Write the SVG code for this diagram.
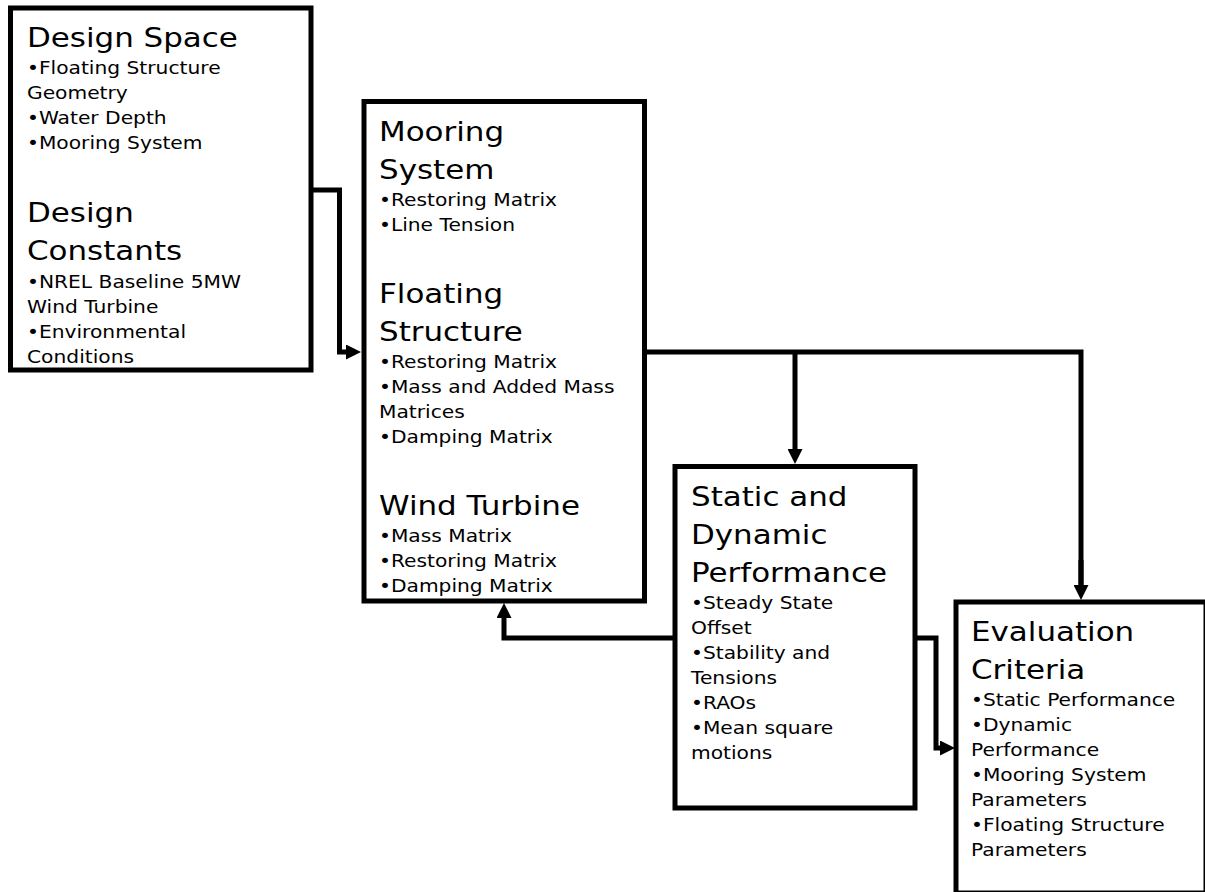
<svg xmlns="http://www.w3.org/2000/svg" width="1205" height="892" viewBox="0 0 1205 892">
<style>
  .box { fill: #ffffff; stroke: #000000; stroke-width: 5; }
  .h { font-family: "DejaVu Sans", Verdana, sans-serif; font-size: 26px; fill: #000000; }
  .b { font-family: "DejaVu Sans", Verdana, sans-serif; font-size: 17px; fill: #000000; }
  .conn { fill: none; stroke: #000000; stroke-width: 5; stroke-linejoin: miter; }
</style>
<defs>
  <marker id="arrow" markerUnits="userSpaceOnUse" markerWidth="15" markerHeight="15" viewBox="0 0 15 15" refX="0" refY="7.5" orient="auto">
    <path d="M0,0 L15,7.5 L0,15 z" fill="#000000"/>
  </marker>
</defs>
<rect width="1205" height="892" fill="#ffffff"/>

<g id="connectors">
  <path class="conn" d="M311,190 H339.5 V352 H346" marker-end="url(#arrow)"/>
  <path class="conn" d="M644,352 H1081 V585"/>
  <path class="conn" d="M1081,560 V585" marker-end="url(#arrow)"/>
  <path class="conn" d="M795,352 V449" marker-end="url(#arrow)"/>
  <path class="conn" d="M675,638 H504 V618" marker-end="url(#arrow)"/>
  <path class="conn" d="M915,638 H936 V748 H940" marker-end="url(#arrow)"/>
</g>

<g id="design-space">
  <rect class="box" x="10.5" y="8" width="300.5" height="362"/>
  <g transform="translate(27,0) scale(1.19,1)">
    <text class="h" x="0" y="47">Design Space</text>
    <text class="b" x="0" y="74">•Floating Structure</text>
    <text class="b" x="0" y="99">Geometry</text>
    <text class="b" x="0" y="124">•Water Depth</text>
    <text class="b" x="0" y="149">•Mooring System</text>
    <text class="h" x="0" y="222">Design</text>
    <text class="h" x="0" y="260">Constants</text>
    <text class="b" x="0" y="288">•NREL Baseline 5MW</text>
    <text class="b" x="0" y="313">Wind Turbine</text>
    <text class="b" x="0" y="338">•Environmental</text>
    <text class="b" x="0" y="363">Conditions</text>
  </g>
</g>

<g id="components">
  <rect class="box" x="364" y="101.5" width="280.5" height="499.5"/>
  <g transform="translate(379,0) scale(1.19,1)">
    <text class="h" x="0" y="141.5">Mooring</text>
    <text class="h" x="0" y="179.5">System</text>
    <text class="b" x="0" y="206.5">•Restoring Matrix</text>
    <text class="b" x="0" y="231.5">•Line Tension</text>
    <text class="h" x="0" y="303.5">Floating</text>
    <text class="h" x="0" y="341.5">Structure</text>
    <text class="b" x="0" y="368.5">•Restoring Matrix</text>
    <text class="b" x="0" y="393.5">•Mass and Added Mass</text>
    <text class="b" x="0" y="418.5">Matrices</text>
    <text class="b" x="0" y="443.5">•Damping Matrix</text>
    <text class="h" x="0" y="515.5">Wind Turbine</text>
    <text class="b" x="0" y="542.5">•Mass Matrix</text>
    <text class="b" x="0" y="567.5">•Restoring Matrix</text>
    <text class="b" x="0" y="592.5">•Damping Matrix</text>
  </g>
</g>

<g id="performance">
  <rect class="box" x="675" y="466.5" width="240" height="341.5"/>
  <g transform="translate(691,0) scale(1.19,1)">
    <text class="h" x="0" y="506">Static and</text>
    <text class="h" x="0" y="544">Dynamic</text>
    <text class="h" x="0" y="582">Performance</text>
    <text class="b" x="0" y="609">•Steady State</text>
    <text class="b" x="0" y="634">Offset</text>
    <text class="b" x="0" y="659">•Stability and</text>
    <text class="b" x="0" y="684">Tensions</text>
    <text class="b" x="0" y="709">•RAOs</text>
    <text class="b" x="0" y="734">•Mean square</text>
    <text class="b" x="0" y="759">motions</text>
  </g>
</g>

<g id="evaluation">
  <rect class="box" x="956" y="602" width="250" height="291"/>
  <g transform="translate(971,0) scale(1.19,1)">
    <text class="h" x="0" y="641">Evaluation</text>
    <text class="h" x="0" y="679">Criteria</text>
    <text class="b" x="0" y="706">•Static Performance</text>
    <text class="b" x="0" y="731">•Dynamic</text>
    <text class="b" x="0" y="756">Performance</text>
    <text class="b" x="0" y="781">•Mooring System</text>
    <text class="b" x="0" y="806">Parameters</text>
    <text class="b" x="0" y="831">•Floating Structure</text>
    <text class="b" x="0" y="856">Parameters</text>
  </g>
</g>
</svg>
